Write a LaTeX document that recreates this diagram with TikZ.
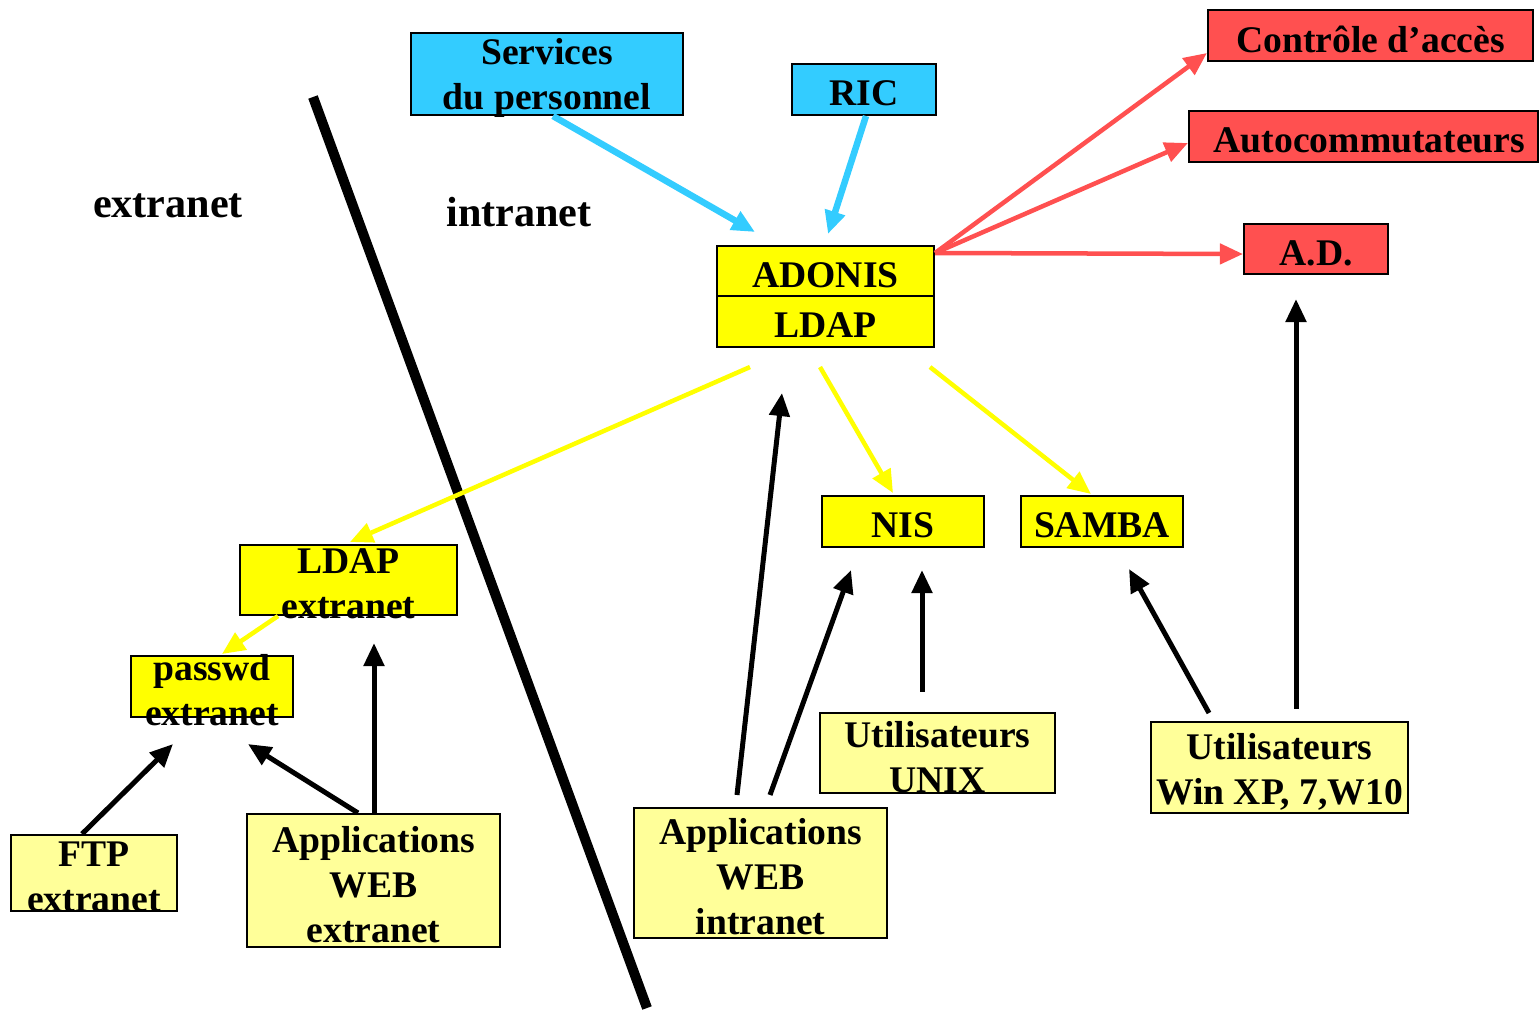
\documentclass[tikz,border=0pt]{standalone}
\usepackage{fontspec}
\setmainfont{Liberation Serif}
\usetikzlibrary{arrows.meta,calc}
\definecolor{cyanbox}{HTML}{33CCFF}
\definecolor{redbox}{HTML}{FF5050}
\definecolor{yellowbox}{HTML}{FFFF00}
\definecolor{paleyellow}{HTML}{FFFF99}
\begin{document}
\begin{tikzpicture}[x=0.01cm,y=-0.01cm,
  box/.style={draw=black, line width=0.02cm, inner sep=0pt},
  lbl/.style={align=center, inner sep=0pt, yshift=-0.04cm, font=\fontsize{10.7pt}{12.8pt}\selectfont\bfseries},
  zone/.style={inner sep=0pt, font=\fontsize{12pt}{14pt}\selectfont\bfseries},
  tip/.style={-{Triangle[length=0.23cm,width=0.2cm]}},
  cyanarrow/.style={tip, draw=cyanbox, line width=0.065cm},
  redarrow/.style={tip, draw=redbox, line width=0.045cm},
  yellowarrow/.style={tip, draw=yellowbox, line width=0.045cm},
  blackarrow/.style={tip, draw=black, line width=0.05cm}]
\useasboundingbox (0,0) rectangle (1539,1011);

% Separation between extranet and intranet
\draw[line width=0.1cm] (313,97) -- (647,1008);
\node[zone] (extzone) at (168,206) {extranet};
\node[zone] (intzone) at (519,212) {intranet};

% Boxes
\node[box, fill=cyanbox, minimum width=2.72cm, minimum height=0.82cm] (services) at (547,74) {};
\node[box, fill=cyanbox, minimum width=1.44cm, minimum height=0.51cm] (ric) at (864,89.5) {};
\node[box, fill=redbox, minimum width=3.25cm, minimum height=0.51cm] (controle) at (1370.5,35.5) {};
\node[box, fill=redbox, minimum width=3.49cm, minimum height=0.51cm] (autocom) at (1363.5,136.5) {};
\node[box, fill=redbox, minimum width=1.44cm, minimum height=0.50cm] (ad) at (1316,249) {};
\node[box, fill=yellowbox, minimum width=2.17cm, minimum height=0.50cm] (adonis) at (825.5,271) {};
\node[box, fill=yellowbox, minimum width=2.17cm, minimum height=0.51cm] (ldapi) at (825.5,321.5) {};
\node[box, fill=yellowbox, minimum width=1.62cm, minimum height=0.51cm] (nis) at (903,521.5) {};
\node[box, fill=yellowbox, minimum width=1.62cm, minimum height=0.51cm] (samba) at (1102,521.5) {};
\node[box, fill=yellowbox, minimum width=2.17cm, minimum height=0.70cm] (ldapext) at (348.5,580) {};
\node[box, fill=yellowbox, minimum width=1.62cm, minimum height=0.61cm] (passwd) at (212,686.5) {};
\node[box, fill=paleyellow, minimum width=1.66cm, minimum height=0.76cm] (ftp) at (94,873) {};
\node[box, fill=paleyellow, minimum width=2.53cm, minimum height=1.33cm] (appext) at (373.5,880.5) {};
\node[box, fill=paleyellow, minimum width=2.53cm, minimum height=1.30cm] (appint) at (760.5,873) {};
\node[box, fill=paleyellow, minimum width=2.35cm, minimum height=0.80cm] (unix) at (937.5,753) {};
\node[box, fill=paleyellow, minimum width=2.57cm, minimum height=0.91cm] (win) at (1279.5,767.5) {};

% Box texts
\node[lbl] (servicesT) at (services) {Services\\du personnel};
\node[lbl] (ricT) at (ric) {RIC};
\node[lbl] (controleT) at (controle) {Contrôle d’accès};
\node[lbl, xshift=0.06cm] (autocomT) at (autocom) {Autocommutateurs};
\node[lbl] (adT) at (ad) {A.D.};
\node[lbl] (adonisT) at (adonis) {ADONIS};
\node[lbl] (ldapiT) at (ldapi) {LDAP};
\node[lbl] (nisT) at (nis) {NIS};
\node[lbl] (sambaT) at (samba) {SAMBA};
\node[lbl] (ldapextT) at (ldapext) {LDAP\\extranet};
\node[lbl] (passwdT) at (passwd) {passwd\\extranet};
\node[lbl] (ftpT) at (ftp) {FTP\\extranet};
\node[lbl] (appextT) at (appext) {Applications\\WEB\\extranet};
\node[lbl] (appintT) at (appint) {Applications\\WEB\\intranet};
\node[lbl] (unixT) at (unix) {Utilisateurs\\UNIX};
\node[lbl] (winT) at (win) {Utilisateurs\\Win XP, 7,W10};

% Sources feeding ADONIS
\draw[cyanarrow] ($(services.south)+(6,0)$) -- ($(adonis.north)+(-70.5,-13)$);
\draw[cyanarrow] ($(ric.south)+(2,0)$) -- ($(adonis.north)+(2.5,-11)$);

% ADONIS exports
\draw[redarrow] ($(adonis.north east)+(0,8)$) -- ($(controle.south west)+(0,-9)$);
\draw[redarrow] ($(adonis.north east)+(0,8)$) -- ($(autocom.west)+(0,6.5)$);
\draw[redarrow] ($(adonis.north east)+(0,8)$) -- ($(ad.west)+(0,5)$);

% LDAP replication
\draw[yellowarrow] ($(ldapi.south)+(-75.5,19)$) -- ($(ldapext.north)+(1.5,-2)$);
\draw[yellowarrow] ($(ldapi.south)+(-5.5,19)$) -- ($(nis.north)+(-10,-2)$);
\draw[yellowarrow] ($(ldapi.south)+(104.5,19)$) -- ($(samba.north)+(-11,-1)$);
\draw[yellowarrow] ($(ldapext.south)+(-70.5,0)$) -- ($(passwd.north)+(10,-1)$);

% Clients
\draw[blackarrow] ($(ftp.north)+(-12,0)$) -- ($(passwd.south)+(-39,26)$);
\draw[blackarrow] ($(appext.north)+(-15.5,0)$) -- ($(passwd.south)+(36,26)$);
\draw[blackarrow] ($(appext.north)+(0.5,0)$) -- ($(ldapext.south)+(25.5,27)$);
\draw[blackarrow] ($(appint.north)+(-23.5,-12)$) -- ($(ldapi.south)+(-43.5,45)$);
\draw[blackarrow] ($(appint.north)+(9.5,-12)$) -- ($(nis.south)+(-52,22)$);
\draw[blackarrow] ($(unix.north)+(-15.5,-20)$) -- ($(nis.south)+(19,22)$);
\draw[blackarrow] ($(win.north)+(-70.5,-8)$) -- ($(samba.south)+(27,21)$);
\draw[blackarrow] ($(win.north)+(16.5,-12)$) -- ($(ad.south)+(-20,24)$);
\end{tikzpicture}
\end{document}
